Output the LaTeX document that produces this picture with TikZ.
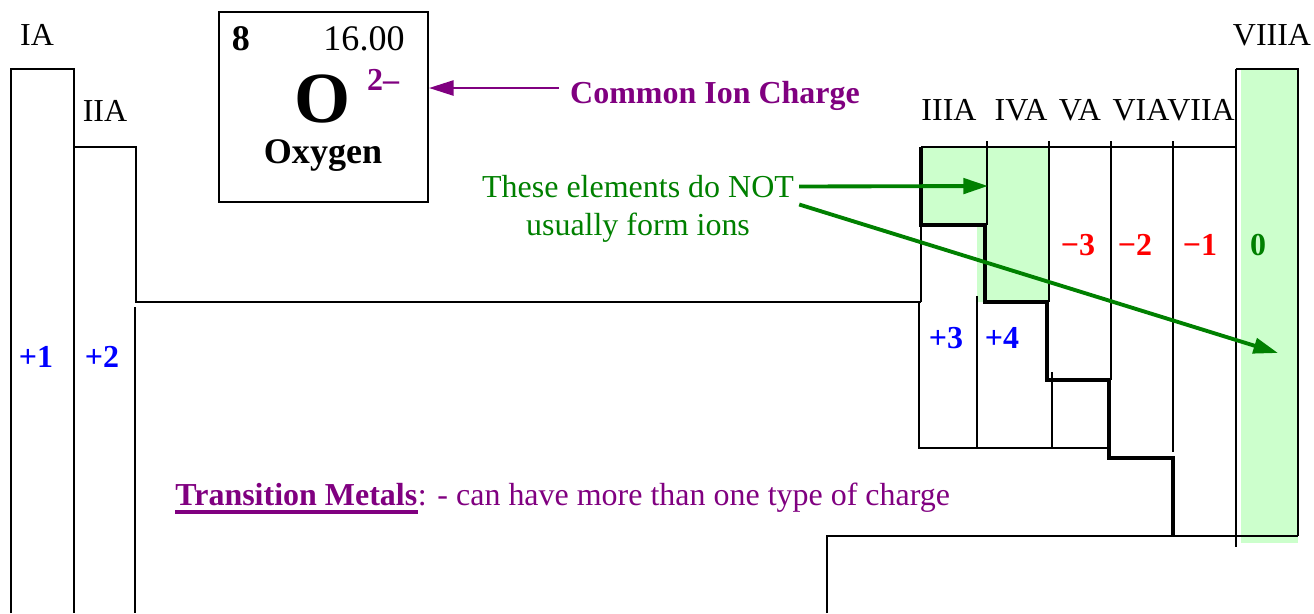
\documentclass[tikz,border=0pt]{standalone}
\usepackage{fontspec}
\setmainfont{Liberation Serif}
\usetikzlibrary{arrows.meta, positioning, calc}
\definecolor{cPurple}{RGB}{128,0,128}
\definecolor{cGreen}{RGB}{0,128,0}
\definecolor{cNoIon}{RGB}{204,255,204}
\definecolor{cPos}{RGB}{0,0,255}
\definecolor{cNeg}{RGB}{255,0,0}
\newcommand{\lblfont}{\fontsize{18.2}{21.6}\selectfont}
\tikzset{
	lbl/.style       ={inner sep=0pt, anchor=base, font=\lblfont},
	poschg/.style    ={lbl, text=cPos, font=\lblfont\bfseries},
	negchg/.style    ={lbl, text=cNeg, font=\lblfont\bfseries},
	cellline/.style  ={line width=1.1pt},
	stairline/.style ={line width=2.4pt},
	noion/.style     ={fill=cNoIon, draw=none},
	ionarrow/.style  ={-{Triangle[length=14pt, width=8.5pt]}, cPurple, line width=1.5pt},
	noionarrow/.style={-{Triangle[length=14pt, width=8.7pt]}, cGreen, line width=2.2pt},
}

\begin{document}
\begin{tikzpicture}[x=0.02cm, y=-0.02cm]
	\useasboundingbox (0,0) rectangle (1314,613);
	% shaded groups that do not form ions
	\fill[noion] (921,147) -- (1049,147) -- (1049,302) -- (977,302) -- (977,225) -- (921,225) -- cycle;
	\fill[noion] (1241,69) rectangle (1298,543);
	% table outline
	\draw[cellline] (11,613) -- (11,69) -- (74,69) -- (74,613);
	\draw[cellline] (74,147) -- (136,147) -- (136,302) -- (921,302);
	\draw[cellline] (135,307) -- (135,613);
	\draw[cellline] (921,147) -- (1236,147);
	\foreach \x/\y in {987/225, 1049/302, 1111/380, 1173/452}
		\draw[cellline] (\x,141) -- (\x,\y);
	\draw[cellline] (1236,69) -- (1236,547);
	\draw[cellline] (1236,69) -- (1298,69) -- (1298,536);
	\draw[cellline] (921,225) -- (921,302);
	\draw[cellline] (919,303) -- (919,448) -- (1109,448);
	\draw[cellline] (977,296) -- (977,448);
	\draw[cellline] (1052,372) -- (1052,448);
	\draw[cellline] (827,613) -- (827,536) -- (1298,536);
	\draw[stairline] (921,147) -- (921,225) -- (985,225) -- (985,302) -- (1047,302) -- (1047,380)
		-- (1109,380) -- (1109,458) -- (1173,458) -- (1173,536);
	% group labels
	\foreach \x/\y/\t/\n in {37/45/IA/gIA, 105/121/IIA/gIIA, 949/120/IIIA/gIIIA, 1021/120/IVA/gIVA,
		1080/120/VA/gVA, 1141/120/VIA/gVIA, 1201/120/VIIA/gVIIA, 1272/45/VIIIA/gVIIIA}
		\node (\n) [lbl] at (\x,\y) {\t};
	% charges
	\foreach \x/\y/\c/\n in {36/367/+1/qIA, 102/367/+2/qIIA, 946/348/+3/qIIIA, 1002/348/+4/qIVA}
		\node (\n) [poschg] at (\x,\y) {\c};
	\foreach \x/\c/\n in {1078/−3/qVA, 1135/−2/qVIA, 1200/−1/qVIIA}
		\node (\n) [negchg] at (\x,255) {\c};
	\node (qVIIIA) [lbl, text=cGreen, font=\lblfont\bfseries] at (1258,255) {0};
	% element key
	\node (oxy) [draw, line width=1.1pt, minimum width=4.18cm, minimum height=3.8cm, inner sep=0pt] at (323.5,107) {};
	\node (oxyNum) [lbl, font=\fontsize{20.5}{24}\selectfont\bfseries] at (241,50) {8};
	\node (oxyMass) [lbl, font=\fontsize{20.5}{24}\selectfont] at (364,50) {16.00};
	\node (oxySym) [lbl, font=\fontsize{41}{48}\selectfont\bfseries] at (323,122) {O};
	\node (oxyChg) [lbl, text=cPurple, font=\lblfont\bfseries] at (383,90) {2–};
	\node (oxyName) [lbl, font=\fontsize{20.5}{24}\selectfont\bfseries] at (323,163) {Oxygen};
	\node (cic) [lbl, text=cPurple, font=\lblfont\bfseries] at (715,103) {Common Ion Charge};
	\coordinate (cicTail) at (559,88);
	\draw[ionarrow] (cicTail) -- (cicTail -| oxy.east);
	% note on groups without ions
	\node (note) [align=center, inner sep=0pt, text=cGreen, font=\lblfont] at (638,208.5)
		{These elements do NOT\\usually form ions};
	\coordinate (ivaTip) at (988,186);
	\coordinate (viiiaTip) at (1278,353);
	\draw[noionarrow] ($(note.east)+(5,-22)$) -- (ivaTip);
	\draw[noionarrow] ($(note.east)+(5,-4)$) -- (viiiaTip);
	% transition metals
	\node (tm) [lbl, anchor=base west, text=cPurple, font=\lblfont\bfseries] at (175,505) {Transition Metals};
	\node (tmRest) [lbl, anchor=base west, text=cPurple] at (tm.base east) {: - can have more than one type of charge};
	\draw[cPurple, line width=1.9pt] ($(tm.base west)+(0,7)$) -- ($(tm.base east)+(0,7)$);
\end{tikzpicture}
\end{document}
